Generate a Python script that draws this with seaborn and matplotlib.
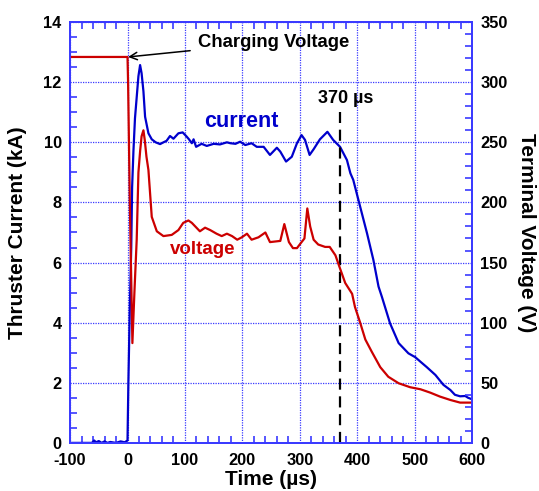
import numpy as np
import pandas as pd
import matplotlib
matplotlib.use("Agg")
import matplotlib.pyplot as plt
import seaborn as sns
from matplotlib.ticker import MultipleLocator

# Thruster current (kA) vs time (us)
current_t = [-100, -62, -58, -55, -50, -45, -40, -35, -30, -20, -12, -5, 0, 1.5, 4, 6.5, 8, 10.3,
             13, 16, 19, 21.9, 24.5, 27.7, 30.6, 36.4, 42.2, 49, 56.7, 62.5, 68, 74, 80, 88.6, 96,
             103, 107, 112, 115, 119.4, 129, 138, 150, 161, 173, 179, 188, 196, 205, 216, 225, 237,
             248, 260, 266, 276, 286, 295, 303, 309, 317, 324, 335, 348, 358, 370, 382, 388, 393,
             402, 417, 428, 437, 443, 457, 472, 489, 501, 510, 521, 536, 550, 562, 570, 579, 588,
             593, 600]
current_ka = [0.0, 0.0, 0.08, 0.02, 0.06, 0.0, 0.05, 0.0, 0.03, 0.0, 0.05, 0.02, 0.08, 2.0, 4.5,
              6.5, 8.5, 9.7, 10.8, 11.5, 12.2, 12.57, 12.3, 11.7, 10.85, 10.3, 10.1, 10.0, 9.94,
              10.0, 10.05, 10.21, 10.12, 10.3, 10.33, 10.19, 10.1, 9.97, 10.1, 9.85, 9.95, 9.88,
              9.95, 9.93, 10.0, 9.97, 9.95, 10.02, 9.91, 9.97, 9.85, 9.85, 9.58, 9.82, 9.69, 9.36,
              9.52, 9.97, 10.24, 10.08, 9.58, 9.77, 10.1, 10.35, 10.08, 9.85, 9.41, 8.97, 8.75,
              8.08, 6.97, 6.09, 5.2, 4.85, 3.98, 3.32, 2.98, 2.85, 2.7, 2.52, 2.26, 1.93, 1.76,
              1.6, 1.55, 1.56, 1.5, 1.45]

# Terminal voltage (V) vs time (us)
voltage_t = [-100, 0, 1, 4, 8.5, 12, 16, 19, 22, 24.5, 27.7, 30, 33, 36.4, 42.2, 51, 62.5, 77,
             88.6, 97, 106, 112, 118, 126, 135, 144, 155, 164, 173, 182, 191, 199, 208, 216,
             228, 240, 248, 266, 273, 281, 288, 295, 303, 308, 313, 318, 324, 332, 344, 352,
             362, 370, 379, 391, 396, 405, 414, 425, 440, 454, 472, 492, 510, 527, 544, 562,
             579, 600]
voltage_v = [321, 321, 300, 200, 83, 125, 169, 225, 243, 255, 260, 252, 238, 227, 188, 176, 172,
             173, 177, 183, 185, 183, 180, 176, 179, 177, 174, 172, 174, 172, 169, 171, 174, 169,
             171, 175, 167, 168, 182, 167, 162, 162, 167, 170, 195, 180, 169, 165, 163, 163, 156,
             145, 133, 124, 113, 100, 86, 76, 63, 55, 49.6, 46.3, 44.6, 41.8, 38.5, 35.7, 33.5,
             33.5]

# Tick labels
x_ticks = [-100, 0, 100, 200, 300, 400, 500, 600]
x_labels = ["-100", "0", "100", "200", "300", "400", "500", "600"]
y_ticks = [0, 2, 4, 6, 8, 10, 12, 14]
y2_ticks = [0, 50, 100, 150, 200, 250, 300, 350]

marker_t = 370
marker_top_ka = 11.0

cur_df = pd.DataFrame({"t": current_t, "val": current_ka})
vol_df = pd.DataFrame({"t": voltage_t, "val": voltage_v})

sns.set_style("ticks")
plt.rcParams["font.family"] = ["Liberation Sans", "DejaVu Sans"]
plt.rcParams["font.weight"] = "bold"
plt.rcParams["axes.unicode_minus"] = False
plt.rcParams["text.color"] = "black"
plt.rcParams["axes.labelcolor"] = "black"

BLUE = "#0000cc"
RED = "#cc0000"
GRID = "#3a3aff"

fig = plt.figure(figsize=(5.39, 4.91), dpi=100)
ax = fig.add_axes([0.130, 0.098, 0.746, 0.857])
ax2 = ax.twinx()

sns.lineplot(data=cur_df, x="t", y="val", ax=ax, color=BLUE, lw=1.6, sort=False, estimator=None)
sns.lineplot(data=vol_df, x="t", y="val", ax=ax2, color=RED, lw=1.6, sort=False, estimator=None)
ax.plot([marker_t, marker_t], [0, marker_top_ka], color="black", lw=1.6, ls=(0, (5, 3)))

ax.set_xticks(x_ticks)
ax.set_xticklabels(x_labels, fontweight="bold", fontsize=11.8)
ax.set_yticks(y_ticks)
ax.set_yticklabels([str(v) for v in y_ticks], fontweight="bold", fontsize=11.8)
ax2.set_yticks(y2_ticks)
ax2.set_yticklabels([str(v) for v in y2_ticks], fontweight="bold", fontsize=11.8)
ax.xaxis.set_minor_locator(MultipleLocator(20))
ax.yaxis.set_minor_locator(MultipleLocator(0.5))
ax2.yaxis.set_minor_locator(MultipleLocator(10))
ax.set_xlim(-100, 600)
ax.set_ylim(0, 14)
ax2.set_ylim(0, 350)

ax.grid(True, which="major", color=GRID, ls=(0, (1, 1)), lw=0.9)

for a in (ax, ax2):
    for s in a.spines.values():
        s.set_color(GRID)
        s.set_linewidth(1.3)
        s.set_visible(True)
ax.tick_params(axis="both", which="both", direction="in", color=GRID, labelcolor="black", top=True)
ax.tick_params(axis="x", which="major", pad=7)
ax.tick_params(axis="y", which="major", pad=6)
ax.tick_params(axis="y", which="both", right=False)
ax.tick_params(which="major", length=0)
ax.tick_params(which="minor", length=5, width=1.2)
ax2.tick_params(axis="y", which="both", direction="in", color=GRID, labelcolor="black", pad=6)
ax2.tick_params(which="major", length=0)
ax2.tick_params(which="minor", length=5, width=1.2)

ax.set_xlabel("Time (\u00b5s)", fontsize=15, fontweight="bold", labelpad=2, color="black")
ax.set_ylabel("Thruster Current (kA)", fontsize=15, fontweight="bold", labelpad=12, color="black")
ax2.set_ylabel("Terminal Voltage (V)", fontsize=15, fontweight="bold", rotation=270, labelpad=20,
               color="black")

ax.text(198, 10.7, "current", color=BLUE, fontsize=15.5, fontweight="bold", ha="center", va="center")
ax.text(130, 6.42, "voltage", color=RED, fontsize=13.5, fontweight="bold", ha="center", va="center")
ax.text(379, 11.47, "370 \u00b5s", color="black", fontsize=13, fontweight="bold", ha="center", va="center")
ax.annotate("Charging Voltage", xy=(1, 12.84), xytext=(122, 13.33), fontsize=13.3, fontweight="bold",
            color="black", va="center", ha="left",
            arrowprops=dict(arrowstyle="->", color="black", lw=1.1, shrinkA=3, shrinkB=0))

fig.savefig("out.png", dpi=100)
